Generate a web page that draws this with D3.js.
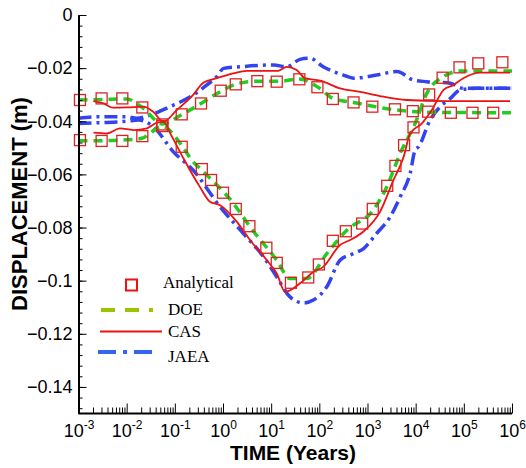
<!DOCTYPE html>
<html>
<head>
<meta charset="utf-8">
<script src="https://cdn.jsdelivr.net/npm/d3@7"></script>
<style>
body { margin: 0; background: #fff; }
</style>
</head>
<body>
<script>
// log10(time) and displacement
// lower set (drops to -0.1, ends near -0.02)
var anaA_t = [-2.97, -2.52, -2.09, -1.675, -1.26, -0.857, -0.44, -0.248, 0.0, 0.265, 0.548, 0.9, 1.116, 1.41, 1.77, 1.99, 2.28, 2.55, 2.89, 3.11, 3.41, 3.58, 3.76, 3.955, 4.28, 4.56, 4.91, 5.30, 5.80];
var anaA_v = [-0.0471, -0.0474, -0.0474, -0.0456, -0.0418, -0.0496, -0.058, -0.0621, -0.0669, -0.073, -0.0795, -0.0876, -0.0933, -0.1008, -0.0988, -0.0939, -0.085, -0.0814, -0.0785, -0.073, -0.0643, -0.0568, -0.049, -0.0423, -0.0299, -0.0236, -0.0197, -0.0182, -0.0178];
// upper set (rises to -0.025, ends near -0.037)
var anaB_t = [-2.97, -2.52, -2.09, -1.675, -1.26, -0.857, -0.456, -0.047, 0.265, 0.713, 1.116, 1.585, 1.96, 2.28, 2.71, 3.10, 3.57, 3.94, 4.26, 4.73, 5.18, 5.61];
var anaB_v = [-0.032, -0.0314, -0.0314, -0.0348, -0.0412, -0.0374, -0.0333, -0.0285, -0.0261, -0.0249, -0.0251, -0.0242, -0.0272, -0.0316, -0.0329, -0.0345, -0.0355, -0.0362, -0.0364, -0.0368, -0.0368, -0.0368];

var doeA_t = [-3, -2.5, -2.0, -1.7, -1.26, -0.86, -0.65, -0.44, 0.215, 0.56, 1.116, 1.39, 1.74, 2.155, 2.57, 3.12, 3.40, 3.68, 3.99, 4.23, 4.58, 4.92, 6];
var doeA_v = [-0.0473, -0.0473, -0.047, -0.0465, -0.042, -0.049, -0.0546, -0.0584, -0.0709, -0.0797, -0.0923, -0.0992, -0.0992, -0.0898, -0.081, -0.0734, -0.0647, -0.052, -0.0408, -0.0295, -0.0232, -0.0211, -0.0211];
var doeB_t = [-3, -2.5, -2.0, -1.675, -1.26, -0.857, -0.456, -0.047, 0.29, 0.77, 1.18, 1.585, 2.0, 2.28, 2.71, 3.57, 4.23, 6];
var doeB_v = [-0.032, -0.0318, -0.0316, -0.0348, -0.041, -0.0375, -0.0333, -0.0288, -0.0259, -0.0249, -0.0249, -0.0241, -0.0275, -0.0314, -0.0329, -0.0357, -0.0366, -0.0368];

var casA_t = [-2.69, -2.41, -2.14, -1.86, -1.58, -1.38, -1.24, -1.06, -0.82, -0.48, -0.27, -0.06, 0.285, 0.56, 0.91, 1.116, 1.29, 1.6, 1.876, 2.08, 2.43, 2.64, 2.91, 3.26, 3.54, 3.75, 3.885, 4.13, 4.335, 4.58, 4.78, 4.99, 5.34, 5.96];
var casA_v = [-0.0443, -0.0446, -0.0427, -0.0433, -0.0427, -0.0406, -0.0402, -0.0458, -0.0540, -0.0647, -0.0703, -0.0716, -0.0778, -0.0847, -0.0923, -0.0973, -0.1042, -0.101, -0.0967, -0.0948, -0.0866, -0.0847, -0.0816, -0.0741, -0.0621, -0.0534, -0.0446, -0.0408, -0.0358, -0.0282, -0.0264, -0.0238, -0.0217, -0.0217];
var casB_t = [-2.69, -2.48, -2.28, -2.0, -1.65, -1.45, -1.24, -0.96, -0.62, -0.41, -0.13, 0.215, 0.49, 1.15, 1.32, 1.53, 1.7, 2.02, 2.43, 2.85, 3.26, 3.82, 4.58, 5.96];
var casB_v = [-0.0324, -0.0333, -0.0349, -0.0348, -0.0345, -0.0364, -0.0402, -0.0358, -0.0301, -0.0255, -0.0238, -0.022, -0.021, -0.021, -0.0195, -0.0207, -0.0238, -0.0247, -0.0276, -0.0289, -0.0305, -0.032, -0.0324, -0.0324];

var jaeaA_t = [-3, -2.5, -2.0, -1.75, -1.45, -1.03, -0.62, -0.06, 0.42, 0.84, 1.116, 1.39, 1.67, 1.876, 2.155, 2.43, 2.71, 2.92, 3.19, 3.47, 3.68, 3.885, 3.99, 4.06, 4.30, 4.51, 4.72, 4.92, 5.27, 6];
var jaeaA_v = [-0.0408, -0.0405, -0.0400, -0.0395, -0.042, -0.0515, -0.0584, -0.0722, -0.0822, -0.091, -0.0986, -0.1061, -0.1084, -0.1073, -0.1023, -0.0923, -0.0898, -0.0879, -0.0822, -0.076, -0.0684, -0.0596, -0.0508, -0.0496, -0.0395, -0.0345, -0.0314, -0.0282, -0.0276, -0.0276];
var jaeaB_t = [-3, -2.55, -2.0, -1.79, -1.52, -1.10, -0.68, -0.34, -0.13, 0.01, 0.355, 1.05, 1.32, 1.6, 1.81, 2.08, 2.5, 2.71, 3.19, 3.61, 3.955, 4.23, 4.72, 4.99, 6];
var jaeaB_v = [-0.0389, -0.0383, -0.0383, -0.0389, -0.0377, -0.0345, -0.0308, -0.0264, -0.0232, -0.0201, -0.0195, -0.0188, -0.0195, -0.0167, -0.0163, -0.0195, -0.0226, -0.0238, -0.0226, -0.0213, -0.0245, -0.0251, -0.0257, -0.0276, -0.0276];

var yTicks = [0, -0.02, -0.04, -0.06, -0.08, -0.1, -0.12, -0.14];
var xExp = [-3, -2, -1, 0, 1, 2, 3, 4, 5, 6];
var legendNames = ['Analytical', 'DOE', 'CAS', 'JAEA'];

var WIDTH = 526;
var HEIGHT = 468;

var svg = d3.select('body')
.append('svg')
.attr('width', WIDTH)
.attr('height', HEIGHT);

var x = d3.scaleLog().domain([1e-3, 1e6]).range([78.5, 512]);
var y = d3.scaleLinear().domain([-0.15, 0]).range([413.5, 15]);

function pts(ts, vs) {
  return ts.map(function(t, i){ return [Math.pow(10, t), vs[i]]; });
}

var line = d3.line()
.x(function(d){ return x(d[0]); })
.y(function(d){ return y(d[1]); })
.curve(d3.curveMonotoneX);

var GREEN = '#22cc22';
var RED = '#ee1111';
var BLUE = '#3344ee';

// JAEA
[pts(jaeaA_t, jaeaA_v), pts(jaeaB_t, jaeaB_v)].forEach(function(p){
  svg.append('path').attr('d', line(p))
  .attr('fill', 'none').attr('stroke', BLUE).attr('stroke-width', 3.5)
  .attr('stroke-dasharray', '13,5,3,5');
});
// DOE
[pts(doeA_t, doeA_v), pts(doeB_t, doeB_v)].forEach(function(p){
  svg.append('path').attr('d', line(p))
  .attr('fill', 'none').attr('stroke', GREEN).attr('stroke-width', 3.5)
  .attr('stroke-dasharray', '9,6');
});
// CAS
[pts(casA_t, casA_v), pts(casB_t, casB_v)].forEach(function(p){
  svg.append('path').attr('d', line(p))
  .attr('fill', 'none').attr('stroke', RED).attr('stroke-width', 1.8);
});
// Analytical squares
svg.selectAll('rect.ana')
.data(pts(anaA_t, anaA_v).concat(pts(anaB_t, anaB_v)))
.enter()
.append('rect')
.attr('class', 'ana')
.attr('x', function(d){ return x(d[0]) - 5.5; })
.attr('y', function(d){ return y(d[1]) - 5.5; })
.attr('width', 11)
.attr('height', 11)
.attr('fill', 'none')
.attr('stroke', '#dd2222')
.attr('stroke-width', 1.3);

// axes: ticks point inward
var yMinor = d3.range(0, -0.1501, -0.004);
var xMinor = [];
for (var e = -3; e < 6; e++) {
  for (var k = 2; k <= 9; k++) xMinor.push(k * Math.pow(10, e));
}

svg.append('g').attr('transform', 'translate(78.5,0)')
.call(d3.axisLeft(y).tickValues(yMinor).tickSize(-4).tickFormat(''))
.call(function(g){ g.select('.domain').remove(); });

var gy = svg.append('g').attr('transform', 'translate(78.5,0)')
.call(d3.axisLeft(y).tickValues(yTicks).tickSizeInner(-8).tickSizeOuter(0)
  .tickFormat(function(d){ return d === 0 ? '0' : d3.format('')(+d.toFixed(2)); }));
gy.select('.domain').attr('stroke-width', 2);
gy.selectAll('.tick text')
.attr('x', -6)
.attr('font-family', 'Liberation Sans, Arial, sans-serif')
.attr('font-size', 18)
.attr('fill', '#000');

svg.append('g').attr('transform', 'translate(0,413.5)')
.call(d3.axisBottom(x).tickValues(xMinor).tickSize(-6).tickFormat(''))
.call(function(g){ g.select('.domain').remove(); });

var gx = svg.append('g').attr('transform', 'translate(0,413.5)')
.call(d3.axisBottom(x).tickValues(xExp.map(function(p){ return Math.pow(10, p); }))
  .tickSizeInner(-10).tickSizeOuter(0).tickFormat(''));
gx.select('.domain').attr('stroke-width', 2).attr('d', 'M78.5,0H512');

gx.selectAll('.tick').each(function(d, i){
  var t = d3.select(this).append('text')
  .attr('y', 23)
  .attr('fill', '#000')
  .attr('font-family', 'Liberation Sans, Arial, sans-serif')
  .attr('font-size', 18)
  .attr('text-anchor', 'middle');
  t.append('tspan').text('10');
  t.append('tspan').attr('dy', -8).attr('font-size', 12).text(xExp[i]);
});

// titles
svg.append('text')
.attr('x', 293).attr('y', 460)
.attr('text-anchor', 'middle')
.attr('font-family', 'Liberation Sans, Arial, sans-serif')
.attr('font-weight', 'bold')
.attr('font-size', 21)
.text('TIME (Years)');

svg.append('text')
.attr('transform', 'translate(27,204) rotate(-90)')
.attr('text-anchor', 'middle')
.attr('font-family', 'Liberation Sans, Arial, sans-serif')
.attr('font-weight', 'bold')
.attr('font-size', 22)
.text('DISPLACEMENT (m)');

// legend
var lg = svg.append('g')
.attr('font-family', 'Liberation Serif, Times New Roman, serif')
.attr('font-size', 17);

lg.append('rect').attr('x', 126).attr('y', 279.5).attr('width', 11).attr('height', 11)
.attr('fill', 'none').attr('stroke', '#ee1111').attr('stroke-width', 2);
lg.append('line').attr('x1', 101).attr('x2', 156).attr('y1', 310).attr('y2', 310)
.attr('stroke', '#99c400').attr('stroke-width', 4).attr('stroke-dasharray', '14,10,14,10,4,10');
lg.append('line').attr('x1', 100).attr('x2', 162).attr('y1', 331.5).attr('y2', 331.5)
.attr('stroke', RED).attr('stroke-width', 2);
lg.append('line').attr('x1', 98).attr('x2', 160).attr('y1', 352).attr('y2', 352)
.attr('stroke', '#3366ee').attr('stroke-width', 4).attr('stroke-dasharray', '18,7,4,7,18');

lg.selectAll('text.lab')
.data(legendNames)
.enter()
.append('text')
.attr('class', 'lab')
.attr('x', function(d, i){ return i === 0 ? 163 : 168; })
.attr('y', function(d, i){ return [288, 315, 337, 362][i]; })
.text(function(d){ return d; });
</script>
</body>
</html>
